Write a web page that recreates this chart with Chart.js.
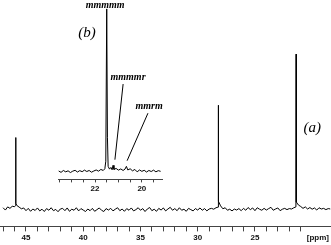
<!DOCTYPE html>
<html>
<head>
<meta charset="utf-8">
<script src="https://cdn.jsdelivr.net/npm/chart.js@4"></script>
<style>
  body { margin: 0; background: #fff; }
  #wrap { position: relative; width: 331px; height: 245px; }
  #main { position: absolute; left: 0; top: 0; }
  #inset { position: absolute; left: 50px; top: 0; }
</style>
</head>
<body>
<div id="wrap">
  <canvas id="main" width="331" height="245"></canvas>
  <canvas id="inset" width="120" height="196"></canvas>
</div>
<script>
// full spectrum, chemical shift (ppm) and intensity
const mainPpm = [
  47.0, 46.8, 46.6, 46.4, 46.2, 46.0, 45.92, 45.9, 45.88, 45.8,
  45.6, 45.4, 45.2, 45.0, 44.8, 44.6, 44.4, 44.2, 44.0, 43.8,
  43.6, 43.4, 43.2, 43.0, 42.8, 42.6, 42.4, 42.2, 42.0, 41.8,
  41.6, 41.4, 41.2, 41.0, 40.8, 40.6, 40.4, 40.2, 40.0, 39.8,
  39.6, 39.4, 39.2, 39.0, 38.8, 38.6, 38.4, 38.2, 38.0, 37.8,
  37.6, 37.4, 37.2, 37.0, 36.8, 36.6, 36.4, 36.2, 36.0, 35.8,
  35.6, 35.4, 35.2, 35.0, 34.8, 34.6, 34.4, 34.2, 34.0, 33.8,
  33.6, 33.4, 33.2, 33.0, 32.8, 32.6, 32.4, 32.2, 32.0, 31.8,
  31.6, 31.4, 31.2, 31.0, 30.8, 30.6, 30.4, 30.2, 30.0, 29.8,
  29.6, 29.4, 29.2, 29.0, 28.8, 28.6, 28.4, 28.22, 28.2, 28.18,
  28.0, 27.8, 27.6, 27.4, 27.2, 27.0, 26.8, 26.6, 26.4, 26.2,
  26.0, 25.8, 25.6, 25.4, 25.2, 25.0, 24.8, 24.6, 24.4, 24.2,
  24.0, 23.8, 23.6, 23.4, 23.2, 23.0, 22.8, 22.6, 22.4, 22.2,
  22.0, 21.8, 21.6, 21.42, 21.4, 21.38, 21.2, 21.0, 20.8, 20.6,
  20.4, 20.2, 20.0, 19.8, 19.6, 19.4, 19.2, 19.0, 18.8, 18.6, 18.4
];
const mainInt = [
  0.9, -0.2, 1.3, 0.6, 1.6, 1.4, 1.9, 34.4, 3.0, 2.0,
  1.2, 0.4, 0.8, -0.5, 0.6, -0.8, 0.3, -0.4, 0.8, -0.6,
  0.2, -0.9, 0.5, -0.3, 0.9, -0.5, 0.1, -1.0, 0.3, 0.6,
  -0.5, 0.8, -0.8, 0.2, -0.3, 0.9, -0.6, 0.5, -0.2, -0.9,
  0.3, -0.5, 0.6, -0.8, 0.0, 0.8, -0.3, -0.9, 0.5, -0.2,
  0.6, -0.6, 0.2, 0.9, -0.5, 0.3, -0.8, 0.5, -0.3, 0.8,
  -0.6, 0.0, 0.9, -0.3, 0.5, -0.9, 0.3, 1.0, -0.5, 0.2,
  -0.8, 0.6, -0.2, 0.8, -0.6, 0.3, 1.1, -0.3, 0.5, -0.5,
  0.9, -0.3, 0.2, -0.8, 0.6, 0.0, -0.6, 0.5, -0.2, 0.8,
  -0.3, 0.5, -0.6, 0.3, 0.6, 0.2, 0.9, 1.2, 49.8, 4.0,
  1.8, 0.4, 0.9, -0.3, 0.2, -0.6, 0.3, -0.2, 0.5, -0.5,
  0.6, -0.3, 1.0, 0.0, 0.8, -0.5, 0.9, 0.2, -0.3, 0.6,
  -0.2, 0.5, 1.1, -0.3, 0.3, 0.8, -0.5, 0.2, 0.6, 0.0,
  0.5, 0.3, 0.9, 1.3, 74.2, 3.6, 2.2, 1.5, 0.6, 1.3,
  0.3, 1.0, 0.2, 0.8, -0.2, 0.9, 0.3, 0.6, 0.0, 0.5, 0.3
];

// expanded methyl region (inset)
const insetPpm = [
  23.55, 23.45, 23.35, 23.25, 23.15, 23.05, 22.95, 22.85, 22.75, 22.65,
  22.55, 22.45, 22.35, 22.25, 22.15, 22.05, 21.95, 21.85, 21.75, 21.65,
  21.58, 21.54, 21.5, 21.47, 21.44, 21.38, 21.32, 21.27, 21.23, 21.19,
  21.1, 21.0, 20.9, 20.8, 20.72, 20.66, 20.6, 20.5, 20.4, 20.3,
  20.2, 20.1, 20.0, 19.9, 19.8, 19.7, 19.6, 19.5, 19.4, 19.3, 19.2
];
const insetInt = [
  0.3, -0.5, 0.6, -0.2, 0.4, -0.6, 0.2, 0.7, -0.3, 0.5,
  -0.1, 0.8, 0.0, 0.6, -0.4, 0.3, 0.9, 0.2, 1.2, 0.6,
  1.6, 6.0, 94.8, 20.0, 3.0, 1.4, 2.4, 1.0, 3.6, 1.2,
  1.8, 0.8, 1.5, 0.6, 1.4, 3.0, 0.9, 1.6, 0.4, 1.2,
  -0.2, 0.9, 0.1, 0.7, -0.3, 0.6, 0.0, 0.8, -0.2, 0.5, 0.1
];

const mainTicks = [21, 22, 23, 24, 25, 26, 27, 28, 29, 30, 31, 32, 33, 34, 35, 36, 37, 38, 39, 40, 41, 42, 43, 44, 45, 46, 47];
const mainLabels = [25, 30, 35, 40, 45];
const insetTicks = [19.5, 20, 20.5, 21, 21.5, 22, 22.5, 23, 23.5];
const insetLabels = [20, 22];

const axisColor = '#444';
const tickFont = { family: 'Liberation Sans', size: 8, weight: 'bold' };

function toPoints(xs, ys) {
  return xs.map((x, i) => ({ x: x, y: ys[i] }));
}

// text labels and leader lines, placed in data coordinates
const notes = {
  id: 'notes',
  afterDraw(chart, args, opts) {
    const ctx = chart.ctx;
    const sx = chart.scales.x;
    const sy = chart.scales.y;
    ctx.save();
    ctx.fillStyle = '#000';
    ctx.strokeStyle = '#000';
    ctx.lineWidth = 1;
    ctx.textAlign = 'center';
    ctx.textBaseline = 'middle';
    (opts.lines || []).forEach(l => {
      ctx.beginPath();
      ctx.moveTo(sx.getPixelForValue(l[0]), sy.getPixelForValue(l[1]));
      ctx.lineTo(sx.getPixelForValue(l[2]), sy.getPixelForValue(l[3]));
      ctx.stroke();
    });
    (opts.texts || []).forEach(t => {
      ctx.font = t.font;
      ctx.fillText(t.text, sx.getPixelForValue(t.x), sy.getPixelForValue(t.y));
    });
    ctx.restore();
  }
};

new Chart(document.getElementById('main'), {
  type: 'line',
  data: {
    datasets: [{
      data: toPoints(mainPpm, mainInt),
      borderColor: '#000',
      borderWidth: 1,
      pointRadius: 0,
      tension: 0
    }]
  },
  options: {
    responsive: false,
    animation: false,
    layout: { padding: 0 },
    plugins: {
      legend: { display: false },
      tooltip: { enabled: false },
      notes: {
        texts: [
          { text: '(a)', x: 20.0, y: 39, font: 'italic 15px "Liberation Serif"' }
        ]
      }
    },
    scales: {
      x: {
        type: 'linear',
        reverse: true,
        min: 18.4,
        max: 47.27,
        afterBuildTicks: axis => {
          axis.ticks = mainTicks.concat([19.5]).map(v => ({ value: v }));
        },
        grid: {
          drawOnChartArea: false,
          tickLength: 5,
          tickColor: c => (c.tick && c.tick.value === 19.5) ? 'rgba(0,0,0,0)' : axisColor
        },
        border: { display: true, color: axisColor, width: 1 },
        ticks: {
          autoSkip: false,
          maxRotation: 0,
          padding: 2,
          color: '#111',
          font: tickFont,
          callback: v => v === 19.5 ? '[ppm]' : (mainLabels.includes(v) ? String(v) : '')
        }
      },
      y: { display: false, min: -8.0, max: 100 }
    }
  },
  plugins: [notes]
});

new Chart(document.getElementById('inset'), {
  type: 'line',
  data: {
    datasets: [{
      data: toPoints(insetPpm, insetInt),
      borderColor: '#000',
      borderWidth: 1,
      pointRadius: 0,
      tension: 0
    }]
  },
  options: {
    responsive: false,
    animation: false,
    layout: { padding: { left: 8, right: 8, top: 0, bottom: 0 } },
    plugins: {
      legend: { display: false },
      tooltip: { enabled: false },
      notes: {
        texts: [
          { text: '(b)', x: 22.34, y: 81, font: 'italic 15px "Liberation Serif"' },
          { text: 'mmmmm', x: 21.57, y: 97, font: 'bold italic 10px "Liberation Serif"' },
          { text: 'mmmmr', x: 20.59, y: 55, font: 'bold italic 10px "Liberation Serif"' },
          { text: 'mmrm', x: 19.69, y: 38, font: 'bold italic 10px "Liberation Serif"' }
        ],
        lines: [
          [20.80, 51, 21.15, 6.9],
          [19.74, 34, 20.63, 6.3]
        ]
      }
    },
    scales: {
      x: {
        type: 'linear',
        reverse: true,
        min: 19.14,
        max: 23.58,
        afterBuildTicks: axis => {
          axis.ticks = insetTicks.map(v => ({ value: v }));
        },
        grid: { drawOnChartArea: false, tickLength: 3, tickColor: axisColor },
        border: { display: true, color: axisColor, width: 1 },
        ticks: {
          autoSkip: false,
          maxRotation: 0,
          padding: 2,
          color: '#111',
          font: tickFont,
          callback: v => insetLabels.includes(v) ? String(v) : ''
        }
      },
      y: { display: false, min: -4.6, max: 100 }
    }
  },
  plugins: [notes]
});
</script>
</body>
</html>
